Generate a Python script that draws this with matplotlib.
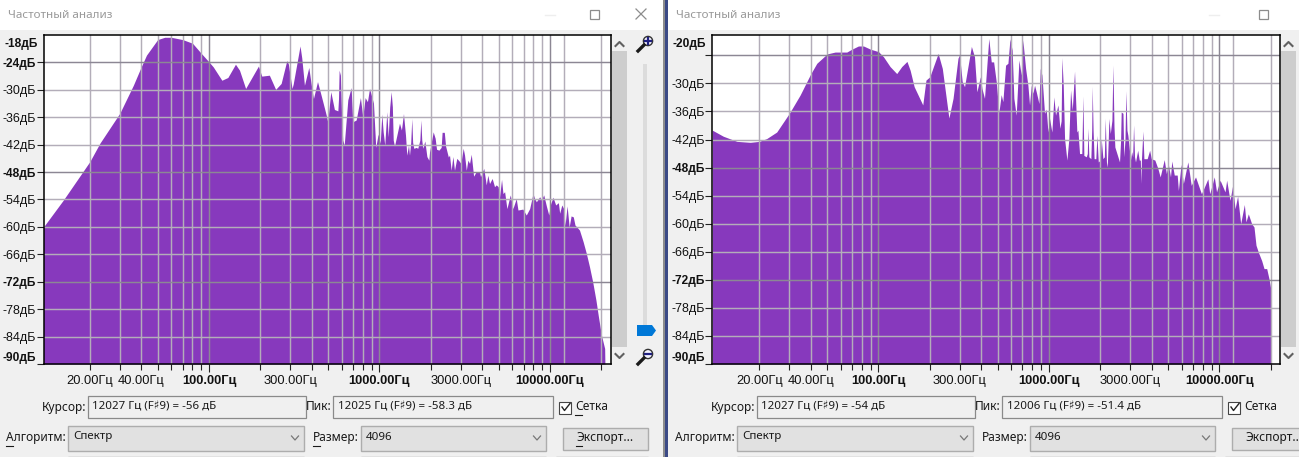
#!/usr/bin/env python
import matplotlib
matplotlib.use("Agg")
import matplotlib.pyplot as plt
from matplotlib.patches import Rectangle, Circle, Polygon

W = 1299
H = 457

left_freqs = [10.7, 14, 20, 22.9, 30, 36, 40, 43, 50, 55, 60, 70, 80, 90, 100, 106, 119, 129, 143, 151, 164, 195, 204,
              226, 246, 265, 286, 292, 307, 312, 342, 350, 363, 385, 397, 410, 433, 457, 487, 497, 518, 544, 570, 575,
              580, 590, 600, 609, 621, 652, 682, 697, 730, 773, 798, 824, 850, 874, 922, 951, 982, 1010, 1032, 1051, 1074,
              1104, 1125, 1148, 1171, 1190, 1204, 1225, 1310, 1345, 1360, 1383, 1400, 1421, 1446, 1480, 1500, 1525, 1547, 1565, 1590, 1642, 1677, 1725, 1748, 1770, 1795, 1845, 1897,
              1948, 1966, 2066, 2121, 2161, 2231, 2300, 2330, 2400, 2442, 2534, 2575, 2633, 2695, 2754, 2840, 2922, 3000, 3098, 3155,
              3230, 3300, 3375, 3454, 3565, 3695, 3860, 3915, 4090, 4230, 4320, 4420, 4580, 4730, 4840, 4970, 5060, 5200, 5300, 5420,
              5590, 5850, 6060, 6340, 6490, 6930, 7260, 7600, 7950, 8130, 8320, 8700, 8900, 9190, 9550, 9840, 10100, 10420, 10800, 11200,
              11400, 11730, 12040, 12260, 12600, 12960, 13300, 13700, 14020, 14360, 14900, 15640, 16340, 17050, 17800, 18600, 19250, 20040, 20460, 20930,
              21000]
left_db = [-60, -54.1, -45.7, -41.7, -35.1, -29, -25, -22.4, -19, -18.5, -18.5, -19, -19.8, -22, -23.9, -25, -27.9, -27.3, -24.4, -25.7, -29.7, -24.8, -27,
           -26.8, -29.9, -28.6, -23.6, -24.3, -29.7, -28.7, -20.4, -23, -29, -25.1, -28.6, -31.9, -28.2, -31.5, -35.5, -37, -30.4, -34.3, -34.6, -32,
           -25.7, -26.8, -36, -41, -42.1, -32.2, -29.5, -37, -36.6, -31.7, -35.9, -31.7, -32.6, -29.7, -32.9, -42.6, -39.7, -41.7, -35.3, -39.2, -42.1,
           -34.8, -40.3, -33.8, -30.4, -33.7, -41, -42.3, -37.3, -38.8, -37.4, -35.2, -37.4, -39.9, -44.3, -42.1, -44.3, -41.5, -36.3, -41.5, -42.8, -42.6, -42.8, -41, -36.6, -41, -42.8, -41.2, -44.6,
           -45.4, -43.6, -39.2, -40.6, -43, -43.2, -42.6, -39.3, -39.3, -42.3, -44.7, -44.3, -47.6, -44.6, -47.6, -45, -45.5, -46.1, -42.8, -44.3,
           -47.6, -45.4, -46.1, -44.1, -48.9, -47.9, -47.9, -49, -47.2, -50.8, -48.7, -50.5, -49.4, -51.2, -50.8, -51.2, -53.4, -49.6, -52.7, -52.3,
           -56, -53, -56, -53.8, -56.3, -56.1, -57.4, -56, -52.7, -53.8, -54.5, -53.4, -54.1, -53, -55.6, -57.4, -54.9, -53.5, -55.2, -54.7,
           -57, -55.2, -56, -59.6, -55.4, -60, -57.6, -57.8, -59.6, -60, -60.7, -63.2, -65.8, -68.7, -72, -76, -79.7, -83.7, -85.1, -86.6,
           -90]

right_freqs = [10.6, 12.3, 14.8, 17.7, 20, 22.1, 25.3, 30, 34.7, 40, 43.5, 50, 55.7, 65.2, 69.7, 76.3, 81.7, 90, 100, 107,
               117, 128, 137, 147, 153.5, 162, 182, 190, 200, 224, 237, 259, 274, 293, 299, 310, 320, 351, 366, 378,
               396, 405, 419, 444, 459, 474, 491, 509, 525, 537, 557, 575, 591, 609, 623, 643, 667, 688, 703, 730,
               753, 770, 788, 806, 824, 843, 874, 890, 910, 943, 965, 987, 1009, 1041, 1070, 1094, 1130, 1160, 1180, 1192, 1214,
               1236, 1275, 1310, 1340, 1371, 1414, 1459,
               1480, 1513, 1560, 1583, 1604, 1657, 1680, 1694, 1716, 1763, 1783, 1795, 1817, 1842, 1885, 1913, 1949, 2004, 2028, 2075,
               2115, 2141, 2176, 2200, 2230, 2249, 2292, 2343, 2375, 2410, 2438, 2597, 2635, 2656, 2720, 2750, 2795, 2830, 2870, 2907,
               3010, 3060, 3100, 3140, 3180, 3222, 3320, 3390, 3440, 3464, 3490, 3560, 3610, 3772,
               3900, 3990, 4184, 4360, 4497, 4750, 4890, 5010, 5170, 5260, 5440, 5660, 5750, 5960, 6150, 6535, 6840, 7250, 7850, 8185,
               8565, 8780, 9340, 9630, 10100, 10800, 11040, 11550, 11970, 12360, 12800, 13340, 14020, 14330, 14790, 15470, 15970, 16410, 16940, 17720,
               18290, 18960, 19560, 20020, 20200]
right_db = [-40, -41.3, -42.4, -42.6, -42.4, -41.8, -40.4, -36.4, -32.5, -28, -25.7, -23.7, -23.3, -23.3, -22.7, -22, -22, -22.7, -23.2, -24.3,
            -26.4, -27.9, -26.4, -25.3, -27.2, -30.7, -34.6, -29.3, -28.6, -23.6, -26.8, -37.4, -33.2, -24.6, -23.9, -29.6, -30.7, -22.1, -24.3, -31.8,
            -28.6, -31.1, -33.2, -20.4, -25.4, -25.4, -29.6, -36.2, -32.4, -33.9, -26.1, -25.7, -20.5, -22.9, -33.2, -36.8, -25, -28.2, -20.7, -26.8,
            -30.4, -34.6, -30.4, -32.1, -30.4, -31.8, -34.3, -26.8, -28.2, -36.4, -35.5, -40.4, -37.5, -40.4, -32.9, -36.8, -34.6, -39.6, -38, -24.5, -30.4,
            -41.8, -46.4, -41.8, -31.4, -35.7, -27.4, -40.4,
            -40, -45, -45, -32.7, -45.4, -45.7, -45, -39.6, -45.7, -46.1, -40, -30.6, -40, -46.1, -46.1, -41.1, -46.8, -46.4, -41.8, -46.1,
            -45.7, -37.5, -46.8, -47.9, -42.1, -37.5, -40.7, -37.9, -26.1, -39.3, -43.6, -46.8, -42.1, -36.1, -36.4, -45.7, -42.1, -31.6, -40, -41.1,
            -46.4, -44.6, -45.7, -38.9, -45.7, -46.8, -44.3, -46.4, -46.4, -51.4, -46.4, -40.2, -46.1, -46.1,
            -44.3, -46.1, -46.4, -48.2, -50, -46.3, -49.3, -47.1, -50, -46.6, -49.6, -49.6, -52.9, -47.3, -51.4, -46.8, -51.8, -50, -53.6, -52.1,
            -50.4, -53.6, -50, -53.2, -50.7, -53.2, -50.7, -55, -51.8, -56.8, -54.1, -60, -55.9, -59.6, -57.9, -60, -60.7, -64.6, -66.1, -67.9,
            -69.6, -69.6, -71.8, -73.9, -88]

grid_freqs = [20, 30, 40, 50, 60, 70, 80, 90, 100, 200, 300, 400, 500, 600, 700, 800, 900, 1000,
              2000, 3000, 4000, 5000, 6000, 7000, 8000, 9000, 10000, 20000]
decade_freqs = [100, 1000, 10000]
freq_labels = {20: "20.00Гц", 40: "40.00Гц", 100: "100.00Гц", 300: "300.00Гц", 1000: "1000.00Гц",
               3000: "3000.00Гц", 10000: "10000.00Гц"}
grid_db = [-24, -30, -36, -42, -48, -54, -60, -66, -72, -78, -84]
dark_db = [-24, -48, -72]
cursor_freq = 12100

left_top_label = "-18дБ"
right_top_label = "-20дБ"

PURPLE = "#8739bd"
GRID = "#b3adb9"
GRID_DARK = "#8c8794"
BG = "#f0f0f0"
UI_FONT = ["Noto Sans", "DejaVu Sans"]
AX_FONT = ["Liberation Sans", "DejaVu Sans"]


def rect(ax, x0, y0, x1, y1, fc, ec="none", lw=1.0):
    ax.add_patch(Rectangle((x0, y0), x1 - x0, y1 - y0, fc=fc, ec=ec, lw=lw))


def chevron(ax, x, y, up, color="#606060", size=4, lw=1.5):
    s = -1 if up else 1
    ax.plot([x - size, x, x + size], [y - s * 2, y + s * 2, y - s * 2], color=color, lw=lw)


def label(ax, x, y, s, ha="left", size=8.6, color="#1a1a1a"):
    ax.text(x, y, s, ha=ha, va="center", fontsize=size, color=color, family=UI_FONT)


def magnifier(ax, x, y, plus):
    ax.plot([x - 8, x - 2], [y + 8, y + 2], color="#1a1a1a", lw=2.4)
    ax.add_patch(Circle((x + 2, y - 2), 4.6, fc="#f4f4ff", ec="#333333", lw=1))
    ax.plot([x - 1, x + 5], [y - 2, y - 2], color="#202080", lw=1.6)
    if plus:
        ax.plot([x + 2, x + 2], [y - 5, y + 1], color="#202080", lw=1.6)


def window_ui(ax, dx, cursor_text, peak_text, underline):
    label(ax, 86 + dx, 407, "Курсор:", ha="right")
    rect(ax, 88.5 + dx, 395.5, 306 + dx, 417.5, BG, "#8a8a8a", 0.9)
    label(ax, 92 + dx, 406.5, cursor_text, size=8.3)
    label(ax, 332 + dx, 407, "Пик:", ha="right")
    rect(ax, 333.5 + dx, 395.5, 553 + dx, 417.5, BG, "#8a8a8a", 0.9)
    label(ax, 338 + dx, 406.5, peak_text, size=8.3)
    rect(ax, 559.5 + dx, 401.5, 571.5 + dx, 413.5, "white", "#444444", 0.8)
    ax.plot([562 + dx, 564.5 + dx, 570 + dx], [407, 410.5, 403.5], color="#222222", lw=1)
    label(ax, 575 + dx, 407, "Сетка")
    label(ax, 6 + dx, 438, "Алгоритм:")
    label(ax, 313 + dx, 438, "Размер:")
    for x0, x1, txt in [(68, 304, "Спектр"), (361, 546, "4096")]:
        rect(ax, x0 + 0.5 + dx, 425.5, x1 + dx, 450.5, "#e1e1e1", "#adadad", 1)
        label(ax, x0 + 5 + dx, 437, txt, size=8.3)
        chevron(ax, x1 - 9 + dx, 438, False, "#777777", 3.5, 0.9)
        rect(ax, x0 + 0.5 + dx, 456.5, x1 + dx, 470, "#e1e1e1", "#adadad", 1)
    rect(ax, 563.5 + dx, 427.5, 648 + dx, 449.5, "#e1e1e1", "#adadad", 1)
    rect(ax, 556.5 + dx, 456.5, 648 + dx, 470, "#e1e1e1", "#adadad", 1)
    label(ax, 605.5 + dx, 438, "Экспорт...", ha="center")
    if underline:
        for x0, x1, y in [(6, 13, 446), (313, 320, 446), (576, 582, 446), (575, 582, 415)]:
            ax.plot([x0 + dx, x1 + dx], [y, y], color="#1a1a1a", lw=0.8)


def draw_spectrum(fig, box, freqs, db, xlim, ylim, top_label, bold_db, labeled_db):
    x0, y0, x1, y1 = box
    ax = fig.add_axes([x0 / W, 1 - y1 / H, (x1 - x0) / W, (y1 - y0) / H], zorder=2)
    ax.set_facecolor("white")
    ax.set_xscale("log")
    ax.fill_between(freqs, db, -90, color=PURPLE, lw=0, zorder=1)
    for f in grid_freqs + [cursor_freq]:
        ax.axvline(f, color=GRID_DARK if f in decade_freqs else GRID, lw=1.05, zorder=2)
    for d in grid_db:
        ax.axhline(d, color=GRID_DARK if d in dark_db else GRID, lw=1.05, zorder=2)
    ax.set_xlim(xlim)
    ax.set_ylim(ylim)
    ax.minorticks_off()
    ax.set_xticks(grid_freqs)
    ax.set_xticklabels([freq_labels.get(f, "") for f in grid_freqs], fontsize=9.3, family=AX_FONT)
    ax.tick_params(axis="x", length=4, width=0.8, pad=4, color="#222222", labelcolor="#111111")
    for tick, f in zip(ax.xaxis.get_major_ticks(), grid_freqs):
        if f in decade_freqs:
            tick.label1.set_fontweight("bold")
            tick.tick1line.set_markersize(6)
    yticks = grid_db + [-90]
    ylabels = ["%dдБ" % d if d in labeled_db else "" for d in grid_db] + ["-90дБ"]
    ax.set_yticks(yticks)
    ax.set_yticklabels(ylabels, fontsize=9.0, family=AX_FONT)
    ax.tick_params(axis="y", length=5, width=0.8, pad=0.5, color="#222222", labelcolor="#111111")
    for tick, d in zip(ax.get_yticklabels(), yticks):
        if d in bold_db:
            tick.set_fontweight("bold")
            tick.set_fontsize(8.6)
    ax.get_yticklabels()[-1].set_va("bottom")
    ax.annotate(top_label, xy=(0, 1), xycoords="axes fraction", xytext=(-6, -9), textcoords="offset pixels",
                ha="right", va="center", fontsize=8.6, fontweight="bold", family=AX_FONT, color="#111111")
    for s in ax.spines.values():
        s.set_color("black")
        s.set_linewidth(1.1)
    return ax


fig = plt.figure(figsize=(W / 100, H / 100), dpi=100, facecolor=BG)
ui = fig.add_axes([0, 0, 1, 1], zorder=1)
ui.set_xlim(0, W)
ui.set_ylim(H, 0)
ui.axis("off")

# title bars
rect(ui, 0, 0, 664, 30, "white")
rect(ui, 668, 0, W, 30, "white")
label(ui, 8, 15, "Частотный анализ", size=8.4, color="#999999")
label(ui, 676, 15, "Частотный анализ", size=8.4, color="#999999")
for x in [550, 1214]:
    ui.plot([x - 5, x + 5], [14.5, 14.5], color="#eeeeee", lw=1)
for x in [595, 1264]:
    rect(ui, x - 4.5, 9.5, x + 4.5, 18.5, "white", "#8c8c8c", 0.9)
ui.plot([636, 646], [9, 19], color="#8c8c8c", lw=0.9)
ui.plot([636, 646], [19, 9], color="#8c8c8c", lw=0.9)

# dark gap between the two windows
rect(ui, 663.5, 0, 665, H, "#8d8d8d")
rect(ui, 665, 0, 668, H, "#3b4a86")

# scrollbars
for sx in [612, 1281]:
    rect(ui, sx, 51, sx + 15, 346.5, "#cdcdcd")
    chevron(ui, sx + 7.5, 44, True)
    chevron(ui, sx + 7.5, 356, False)
# gain slider
rect(ui, 643.5, 64, 647.5, 326, "#dcdcdc")
ui.add_patch(Polygon([(637, 325), (652, 325), (656, 330.5), (652, 336), (637, 336)], fc="#0078d7", ec="none"))
magnifier(ui, 646, 43, True)
magnifier(ui, 646, 356, False)

window_ui(ui, 0, "12027 Гц (F♯9) = -56 дБ", "12025 Гц (F♯9) = -58.3 дБ", True)
window_ui(ui, 669, "12027 Гц (F♯9) = -54 дБ", "12006 Гц (F♯9) = -51.4 дБ", False)

draw_spectrum(fig, (43.5, 35, 611, 364), left_freqs, left_db, (10.7, 22800), (-90, -18), left_top_label,
              [-24, -48, -72, -90], grid_db)
draw_spectrum(fig, (712.3, 35, 1279.7, 364), right_freqs, right_db, (10.6, 22600), (-90, -19.65), right_top_label,
              [-48, -72, -90], [d for d in grid_db if d != -24])

fig.savefig("out.png", dpi=100, facecolor=BG)
